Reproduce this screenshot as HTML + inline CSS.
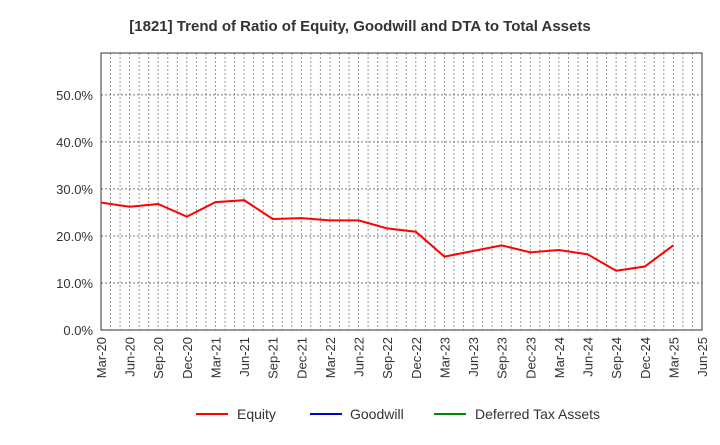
<!DOCTYPE html>
<html><head><meta charset="utf-8"><style>
body{margin:0;background:#fff;font-family:"Liberation Sans",sans-serif;}
svg text{font-family:"Liberation Sans",sans-serif;}
</style></head><body>
<svg id="chart" width="720" height="440" xmlns="http://www.w3.org/2000/svg">
<text x="360" y="31" text-anchor="middle" font-size="15" font-weight="bold" fill="#333">[1821]  Trend of Ratio of Equity, Goodwill and DTA to Total Assets</text>
<g id="grid"></g><g id="axes"></g><g id="series"></g>
<g>
<line x1="196" y1="414" x2="228" y2="414" stroke="#f00" stroke-width="2"/><text x="237" y="419" font-size="14" fill="#333">Equity</text>
<line x1="310" y1="414" x2="342" y2="414" stroke="#00c" stroke-width="2"/><text x="350" y="419" font-size="14" fill="#333">Goodwill</text>
<line x1="434" y1="414" x2="466" y2="414" stroke="#080" stroke-width="2"/><text x="475" y="419" font-size="14" fill="#333">Deferred Tax Assets</text>
</g>
</svg>
<script>
const categories=["Mar-20","Jun-20","Sep-20","Dec-20","Mar-21","Jun-21","Sep-21","Dec-21","Mar-22","Jun-22","Sep-22","Dec-22","Mar-23","Jun-23","Sep-23","Dec-23","Mar-24","Jun-24","Sep-24","Dec-24","Mar-25","Jun-25"];
const equity=[27.1,26.2,26.8,24.1,27.2,27.6,23.6,23.8,23.3,23.3,21.6,20.9,15.6,16.8,18.0,16.5,17.0,16.1,12.6,13.5,18.0];
const yTicks=[0,10,20,30,40,50];
const yTickLabels=["0.0%","10.0%","20.0%","30.0%","40.0%","50.0%"];
const L=101,R=702,T=53,B=330,yMax=58.9;
const ns="http://www.w3.org/2000/svg";
const x=i=>L+(R-L)*i/(categories.length-1);
const y=v=>B-(B-T)*v/yMax;
function mk(tag,attrs,parent,text){const e=document.createElementNS(ns,tag);for(const k in attrs)e.setAttribute(k,attrs[k]);if(text!==undefined)e.textContent=text;document.getElementById(parent).appendChild(e);return e;}
for(let m=1;m<(categories.length-1)*3;m++){const xx=L+(R-L)*m/((categories.length-1)*3);
const g=mk('line',{x1:xx,x2:xx,y1:T,y2:B,stroke:'#999','stroke-dasharray':'2,2','stroke-width':1},'grid');

}
yTicks.forEach((t,i)=>{const yy=y(t);
if(t>0){const g=mk('line',{x1:L,x2:R,y1:yy,y2:yy,stroke:'#777','stroke-dasharray':'2,2','stroke-width':1},'grid');

}
const tx=mk('text',{x:L-8,y:yy+5,'text-anchor':'end','font-size':13,fill:'#333'},'axes',yTickLabels[i]);

});
const frame=mk('rect',{x:L,y:T,width:R-L,height:B-T,fill:'none',stroke:'#333','stroke-width':1},'axes');


categories.forEach((c,i)=>{const xx=x(i);
const tx=mk('text',{transform:`translate(${xx+5},${B+7}) rotate(-90)`,'text-anchor':'end','font-size':13,fill:'#333'},'axes',c);

});
const pts=equity.map((v,i)=>x(i)+','+y(v)).join(' ');
const pl=mk('polyline',{points:pts,fill:'none',stroke:'#f00','stroke-width':2},'series');


</script>
</body></html>
